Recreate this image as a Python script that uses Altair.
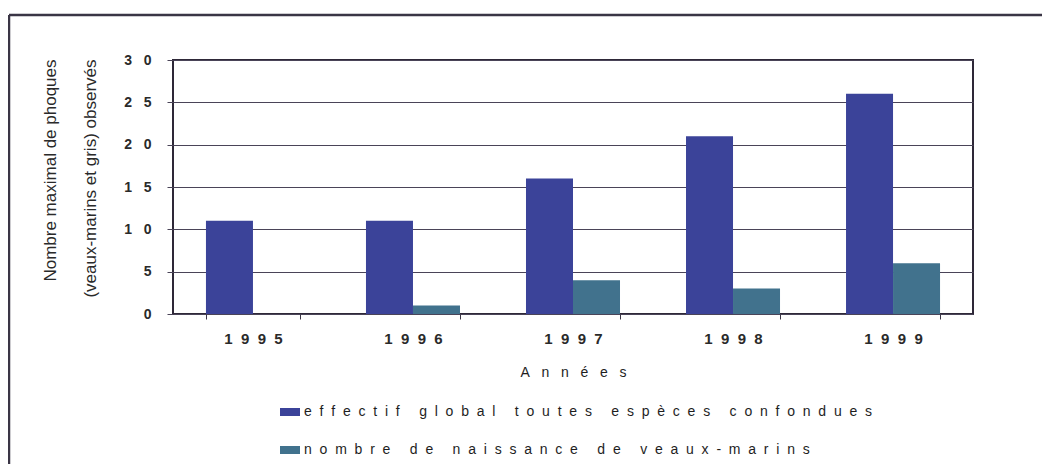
import altair as alt
import pandas as pd

years = ["1995", "1996", "1997", "1998", "1999"]
series_names = [
    "effectif global toutes espèces confondues",
    "nombre de naissance de veaux-marins",
]
total_values = [11, 11, 16, 21, 26]
births_values = [0, 1, 4, 3, 6]
y_ticks = [0, 5, 10, 15, 20, 25, 30]
colors = ["#3b4399", "#41728d"]

NB = "\u00a0"

rows = []
for i, yr in enumerate(years):
    rows.append({"year": yr, "series": series_names[0], "value": total_values[i]})
    rows.append({"year": yr, "series": series_names[1], "value": births_values[i]})
df = pd.DataFrame(rows)

x_title = (NB * 3).join(list("Années"))

bars = alt.Chart(df).mark_bar(stroke=None).encode(
    x=alt.X(
        "year:N",
        sort=years,
        scale=alt.Scale(paddingInner=0.4125, paddingOuter=0.206),
        axis=alt.Axis(
            title=x_title,
            labelAngle=0,
            labelExpr="join(split(datum.label, ''), '\u00a0\u00a0')",
            labelFont="Liberation Sans",
            labelFontSize=15,
            labelFontWeight="bold",
            labelColor="#2a2a2a",
            labelPadding=12,
            tickBand="extent",
            tickSize=5,
            tickColor="#3a3545",
            domain=False,
            grid=False,
            titleFont="Liberation Sans",
            titleFontSize=14,
            titleFontWeight="normal",
            titleColor="#1e1e1e",
            titlePadding=19,
        ),
    ),
    xOffset=alt.XOffset("series:N", sort=series_names, scale=alt.Scale(paddingInner=0, paddingOuter=0)),
    y=alt.Y(
        "value:Q",
        scale=alt.Scale(domain=[0, 30], nice=False),
        axis=alt.Axis(
            values=y_ticks,
            title=["Nombre maximal de phoques", "(veaux-marins et gris) observés"],
            titleFont="Liberation Sans",
            titleFontSize=17,
            titleFontWeight="normal",
            titleColor="#2a2a2a",
            titleLineHeight=40,
            titleAngle=-90,
            titleAlign="right",
            titleBaseline="middle",
            titleX=-123,
            titleY=-1,
            labelExpr="join(split(datum.label, ''), '\u00a0\u00a0\u00a0')",
            labelFont="Liberation Sans",
            labelFontSize=14,
            labelFontWeight="bold",
            labelColor="#2a2a2a",
            labelPadding=16,
            tickSize=6,
            tickColor="#4a4458",
            gridColor="#4a4458",
            gridWidth=1.2,
            domain=False,
        ),
    ),
    color=alt.Color(
        "series:N",
        sort=series_names,
        scale=alt.Scale(domain=series_names, range=colors),
        legend=alt.Legend(
            title=None,
            orient="none",
            legendX=107,
            legendY=342,
            direction="vertical",
            symbolType="M-1,-0.4L1,-0.4L1,0.4L-1,0.4Z",
            symbolSize=400,
            symbolStrokeWidth=0,
            labelExpr="join(split(datum.label, ''), '\u00a0\u00a0')",
            labelFont="Liberation Sans",
            labelFontSize=14,
            labelColor="#1e1e1e",
            labelLimit=900,
            labelOffset=4,
            rowPadding=21,
            padding=0,
        ),
    ),
)

frame_top = alt.Chart(alt.Data(values=[{"k": 1}])).mark_rule(color="#3a3545", strokeWidth=2.5).encode(
    x=alt.value(-164), x2=alt.value(880), y=alt.value(-45)
)
frame_left = alt.Chart(alt.Data(values=[{"k": 1}])).mark_rule(color="#3a3545", strokeWidth=2.5).encode(
    x=alt.value(-164), y=alt.value(-45), y2=alt.value(420)
)

chart = alt.layer(bars, frame_top, frame_left).properties(
    width=800,
    height=254,
    autosize=alt.AutoSizeParams(type="none"),
    padding={"left": 165, "top": 52, "right": 69, "bottom": 150},
    background="white",
).configure_view(
    stroke="#2e2838", strokeWidth=2
)

chart.save("out.html", embed_options={"renderer": "svg", "actions": False})
